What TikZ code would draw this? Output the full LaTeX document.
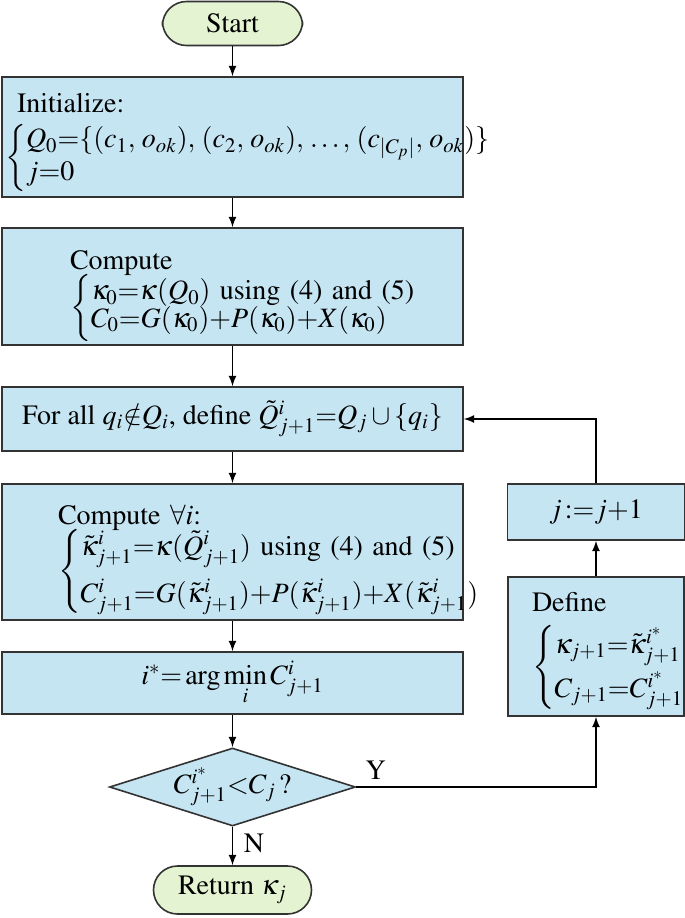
\documentclass[tikz,border=0pt]{standalone}
\usepackage{amsmath}
\usepackage{mathptmx}
\usepackage[T1]{fontenc}
\usepackage{tikz}
\usetikzlibrary{positioning}
\usetikzlibrary{shapes.geometric}

\definecolor{boxblue}{RGB}{198,229,243}
\definecolor{termgreen}{RGB}{228,244,210}
\renewcommand{\arraystretch}{0.85}

\begin{document}
\begin{tikzpicture}[x=0.5pt, y=-0.5pt,
    font=\fontsize{14}{17}\selectfont,
    block/.style={draw=black!80, fill=boxblue, line width=0.8pt, minimum width=230.5pt, inner sep=0pt},
    leftblock/.style={block, align=left, inner ysep=0pt},
    term/.style={draw=black!80, fill=termgreen, line width=0.8pt, rounded corners=12pt, inner sep=0pt},
    decision/.style={draw=black!80, fill=boxblue, line width=0.8pt, diamond, aspect=3.15, inner sep=0pt,
        minimum width=123pt, minimum height=39pt},
    arr/.style={-latex, line width=0.8pt}]
    \useasboundingbox (0,0) rectangle (685,918);

    % main column
    \node[term, minimum width=70pt, minimum height=22pt] (start) at (232.5,23.5) {Start};
    \node[leftblock, text width=227.5pt, inner xsep=1.5pt, text height=17.5pt, text depth=42.5pt] (init) at (232.5,137) {
        \hspace*{6pt}Initialize:\\[5pt]
        $\left\{\begin{array}{@{}l@{}}
            Q_0{=}\{(c_1,\,o_{ok}),\,(c_2,\,o_{ok}),\,\ldots,\,(c_{|C_p|},\,o_{ok})\}\\[1.5pt]
            j{=}0
        \end{array}\right.$
    };
    \node[leftblock, text width=162.5pt, inner xsep=34pt, text height=20.5pt, text depth=38pt] (comp0) at (232.5,286.5) {
        Compute\\[-1.5pt]
        $\left\{\begin{array}{@{}l@{}}
            \kappa_0{=}\kappa(Q_0)\text{ using (4) and (5)}\\[-1pt]
            C_0{=}G(\kappa_0){+}P(\kappa_0){+}X(\kappa_0)
        \end{array}\right.$
    };
    \node[block, minimum height=32pt] (forall) at (232.5,419) {
        For all $q_i{\notin}Q_i$, define $\tilde{Q}^i_{j+1}{=}Q_j\cup\{q_i\}$
    };
    \node[leftblock, text width=174.5pt, inner xsep=28pt, text height=20pt, text depth=48pt] (compi) at (232.5,552) {
        Compute $\forall i$:\\[-2.5pt]
        $\def\arraystretch{1.18}\left\{\begin{array}{@{}l@{}}
            \tilde{\kappa}^i_{j+1}{=}\kappa(\tilde{Q}^i_{j+1})\text{ using (4) and (5)}\\[3.5pt]
            C^i_{j+1}{=}G(\tilde{\kappa}^i_{j+1}){+}P(\tilde{\kappa}^i_{j+1}){+}X(\tilde{\kappa}^i_{j+1})
        \end{array}\right.$
    };
    \node[block, minimum height=31pt] (argmin) at (232.5,683) {
        $i^*{=}\arg\min\limits_i C^i_{j+1}$
    };
    \node[decision] (dec) at (232.5,787) {$C^{i^*}_{j+1}{<}C_j\,$?};
    \node[term, minimum width=79pt, minimum height=24pt] (ret) at (232.5,890) {Return $\kappa_j$};

    % loop column
    \node[leftblock, minimum width=88pt, text width=64pt, inner xsep=12pt, text height=17pt, text depth=52.5pt] (define) at (596,646.5) {
        Define\\[6pt]
        $\def\arraystretch{1.18}\left\{\begin{array}{@{}l@{}}
            \kappa_{j+1}{=}\tilde{\kappa}^{i^*}_{j+1}\\[2pt]
            C_{j+1}{=}C^{i^*}_{j+1}
        \end{array}\right.$
    };
    \node[block, minimum width=88.5pt, minimum height=28pt] (jinc) at (596,512) {$j\,{:}{=}j{+}1$};

    \node[above right=3.5pt and 4.5pt of dec.east, inner sep=0pt] (ylab) {Y};
    \node[below right=3.5pt and 5.5pt of dec.south, inner sep=0pt] (nlab) {N};

    \draw[arr] (start) -- (init);
    \draw[arr] (init) -- (comp0);
    \draw[arr] (comp0) -- (forall);
    \draw[arr] (forall) -- (compi);
    \draw[arr] (compi) -- (argmin);
    \draw[arr] (argmin) -- (dec);
    \draw[arr] (dec) -- (ret);
    \draw[arr] (dec.east) -| (define.south);
    \draw[arr] (define) -- (jinc);
    \draw[arr] (jinc.north) |- (forall.east);
\end{tikzpicture}
\end{document}
